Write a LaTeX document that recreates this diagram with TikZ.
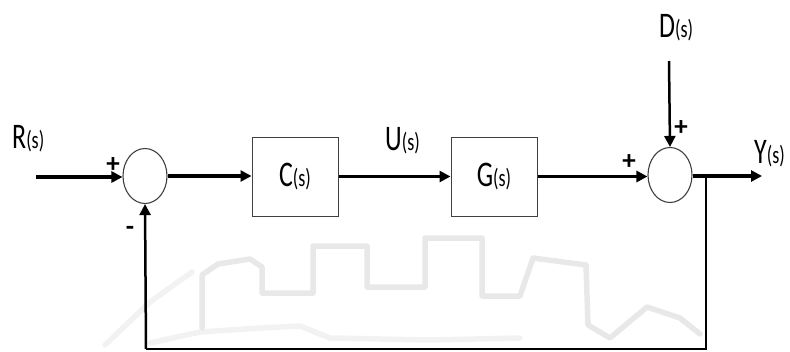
\documentclass[tikz,border=0pt]{standalone}
\usepackage{fontspec}
\usepackage{graphicx}
\setmainfont{Carlito}
\usetikzlibrary{arrows.meta,shapes.geometric}

% signal name with a smaller "(s)" argument, set a little narrow
\newcommand\sigl[2]{\scalebox{0.72}[1]{{\fontsize{36}{36}\selectfont #1}{\fontsize{25}{25}\selectfont(#2)}}}

\begin{document}
\begin{tikzpicture}[x=1pt,y=-1pt,
  sumnode/.style={draw=black!75, line width=1.1pt, ellipse, minimum width=44pt,
                  minimum height=55pt, inner sep=0pt},
  block/.style={draw=black!75, line width=1pt, minimum width=86pt,
                minimum height=79pt, inner sep=0pt},
  lbl/.style={inner sep=0pt, anchor=base west},
  sign/.style={inner sep=0pt, font=\fontsize{27}{27}\selectfont\bfseries},
  fwd/.style={line width=3.2pt, -{Triangle[length=11pt,width=11pt]}},
  thinfwd/.style={line width=2.5pt, -{Triangle[length=11pt,width=11pt]}},
  fbline/.style={line width=2.5pt},
  haze/.style={line width=5.5pt, black!9, line join=round, line cap=round},
  hazelight/.style={line width=5.5pt, black!5, line join=round, line cap=round}
]
\useasboundingbox (0,0) rectangle (790,351);

% faint background pattern
\draw[hazelight] (105,345) -- (150,302) -- (192,272);
\draw[hazelight] (150,343) -- (200,332) -- (260,328) -- (300,326) -- (330,338)
  -- (430,340) -- (520,338);
\draw[haze] (202,328) -- (202,275) -- (218,264) -- (250,259) -- (262,267)
  -- (262,293) -- (313,293) -- (313,246) -- (367,246) -- (367,287)
  -- (425,287) -- (425,238) -- (482,238) -- (482,296) -- (520,296)
  -- (533,258) -- (586,265) -- (588,325) -- (610,338) -- (647,307)
  -- (680,318) -- (700,334);

% blocks and summing junctions
\node[sumnode] (s1) at (145,176) {};
\node[block] (c) at (295,176.5) {\sigl{C}{s}};
\node[block] (g) at (494,176.5) {\sigl{G}{s}};
\node[sumnode] (s2) at (670,175) {};

% free ends of the connectors
\coordinate (rin) at (36,177);
\coordinate (din) at (669,61);
\coordinate (yout) at (762,176);
\coordinate (tap) at (706,176);
\coordinate (fbr) at (706,349);
\coordinate (fbl) at (146,349);

% signal names
\node[lbl] (rlab) at (12,148) {\sigl{R}{s}};
\node[lbl] (ulab) at (385,150) {\sigl{U}{s}};
\node[lbl] (dlab) at (659,37) {\sigl{D}{s}};
\node[lbl] (ylab) at (754,163) {\sigl{Y}{s}};

% signs at the junctions
\node[sign] (p1) at (113,165) {+};
\node[sign] (m1) at (130,231) {-};
\node[sign] (p2) at (629,162) {+};
\node[sign] (p3) at (681,128) {+};

% connectors
\draw[fwd] (rin) -- (rin -| s1.west);
\draw[fwd] (s1.east) -- (s1.east -| c.west);
\draw[fwd] (c.east) -- (c.east -| g.west);
\draw[fwd] (g.east) -- (g.east -| s2.west);
\draw[thinfwd] (din) -- (s2.north);
\draw[fwd] (s2.east |- yout) -- (yout);
\draw[fbline] (tap) -- (fbr) -- (fbl);
\draw[thinfwd] (fbl) -- (s1.south);
\end{tikzpicture}
\end{document}
